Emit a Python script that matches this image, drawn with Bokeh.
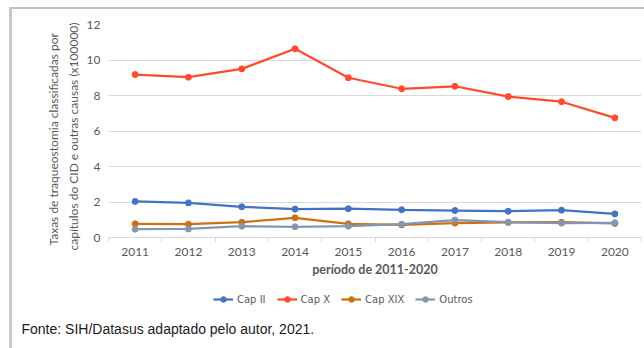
from bokeh.plotting import figure
from bokeh.layouts import column
from bokeh.models import Range1d, FixedTicker, Legend, LegendItem, Title, Label
from bokeh.embed import file_html
from bokeh.resources import INLINE

years = [2011, 2012, 2013, 2014, 2015, 2016, 2017, 2018, 2019, 2020]
cap_ii = [2.03, 1.95, 1.73, 1.60, 1.62, 1.56, 1.52, 1.48, 1.54, 1.33]
cap_x = [9.18, 9.03, 9.50, 10.63, 9.00, 8.38, 8.52, 7.94, 7.65, 6.74]
cap_xix = [0.77, 0.75, 0.86, 1.11, 0.77, 0.71, 0.81, 0.85, 0.86, 0.79]
outros = [0.47, 0.48, 0.64, 0.60, 0.64, 0.75, 0.98, 0.86, 0.81, 0.83]
y_ticks = [0, 2, 4, 6, 8, 10, 12]
series_names = ["Cap II", "Cap X", "Cap XIX", "Outros"]
series_colors = ["#4472C4", "#FF4B2B", "#D0700F", "#8497B0"]
series_values = [cap_ii, cap_x, cap_xix, outros]

OX, OY = 12, 9                      # page margin + frame border
W = 644 - OX
H1, H2 = 285 - OY, 348 - 285
FRAME_L, FRAME_T, FRAME_B = 108 - OX, 24 - OY, 237 - OY

p = figure(width=W, height=H1, output_backend="svg", toolbar_location=None,
           x_range=Range1d(years[0] - 0.5, years[-1] + 0.5), y_range=Range1d(0, 12),
           min_border_left=FRAME_L, min_border_right=3, min_border_top=FRAME_T,
           min_border_bottom=H1 - FRAME_B)
p.frame_align = False
p.outline_line_color = None
p.background_fill_color = "white"
p.border_fill_color = "white"

p.xgrid.grid_line_color = None
p.ygrid.grid_line_color = "#d9d9d9"
p.ygrid.grid_line_width = 1

p.yaxis.ticker = FixedTicker(ticks=y_ticks)
p.yaxis.axis_line_color = None
p.yaxis.major_tick_line_color = None
p.yaxis.minor_tick_line_color = None
p.yaxis.major_tick_out = 0
p.yaxis.major_label_standoff = 8
p.yaxis.major_label_text_color = "#595959"
p.yaxis.major_label_text_font = "Lato"
p.yaxis.major_label_text_font_size = "12px"

p.xaxis.ticker = FixedTicker(ticks=years, minor_ticks=[y - 0.5 for y in years] + [years[-1] + 0.5])
p.xaxis.axis_line_color = "#d9d9d9"
p.xaxis.major_tick_line_color = None
p.xaxis.major_tick_out = 0
p.xaxis.major_tick_in = 0
p.xaxis.minor_tick_line_color = "#d9d9d9"
p.xaxis.minor_tick_out = 5
p.xaxis.minor_tick_in = 0
p.xaxis.major_label_standoff = 5
p.xaxis.major_label_text_color = "#595959"
p.xaxis.major_label_text_font = "Lato"
p.xaxis.major_label_text_font_size = "12px"
p.xaxis.axis_label = "período de 2011-2020"
p.xaxis.axis_label_text_font = "Lato"
p.xaxis.axis_label_text_font_style = "bold"
p.xaxis.axis_label_text_font_size = "12.5px"
p.xaxis.axis_label_text_color = "#595959"
p.xaxis.axis_label_standoff = 3

for vals, col in zip(series_values, series_colors):
    p.line(years, vals, line_color=col, line_width=2.25)
    p.scatter(years, vals, size=6, fill_color=col, line_color=col)

ylab2 = Title(text="capítulos do CID e outras causas (x100000)", align="left",
              offset=-13, text_font="Lato", text_font_size="12px",
              text_font_style="normal", text_color="#595959", standoff=5)
ylab1 = Title(text="Taxas de traqueostomia classificadas por", align="left",
              offset=-8, text_font="Lato", text_font_size="12px",
              text_font_style="normal", text_color="#595959", standoff=1)
p.add_layout(ylab2, "left")
p.add_layout(ylab1, "left")

# bottom strip: legend and source note
q = figure(width=W, height=H2, output_backend="svg", toolbar_location=None,
           x_axis_type=None, y_axis_type=None,
           x_range=Range1d(0, W), y_range=Range1d(0, H2),
           min_border_left=0, min_border_right=0, min_border_top=0, min_border_bottom=0)
q.frame_align = False
q.outline_line_color = None
q.grid.grid_line_color = None
q.background_fill_color = "white"
q.border_fill_color = "white"

# legend proxies: same series, drawn outside this strip's visible range
items = []
for name, vals, col in zip(series_names, series_values, series_colors):
    l = q.line(years, vals, line_color=col, line_width=2.25)
    s = q.scatter(years, vals, size=5, fill_color=col, line_color=col)
    items.append(LegendItem(label=name, renderers=[l, s]))

legend = Legend(items=items, orientation="horizontal", location=(213 - OX, 348 - 306),
                border_line_color=None, background_fill_alpha=0,
                label_text_font="DejaVu Sans", label_text_font_size="10px",
                label_text_color="#595959", glyph_width=20, glyph_height=14,
                label_standoff=4, spacing=11, padding=0, margin=0)
q.add_layout(legend, "center")

footer = Label(x=21 - OX, y=348 - 328, x_units="screen", y_units="screen",
               text="Fonte: SIH/Datasus adaptado pelo autor, 2021.", text_align="left",
               text_baseline="middle", text_font="Liberation Sans",
               text_font_size="14px", text_color="#1a1a1a")
q.add_layout(footer)

layout = column(p, q, spacing=0, margin=(7, 0, 0, 9),
                styles={"border-top": "2px solid #c0c0c0", "border-left": "3px solid #c8c8c8"})

open("out.html", "w").write(file_html(layout, INLINE))
